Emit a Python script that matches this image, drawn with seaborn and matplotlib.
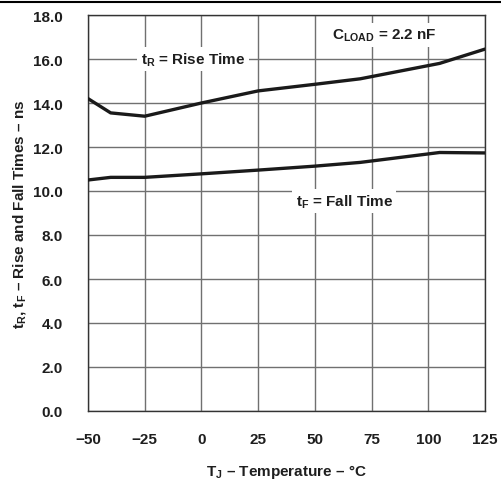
import matplotlib
matplotlib.use("Agg")
import matplotlib.pyplot as plt
import seaborn as sns
import pandas as pd
from matplotlib.lines import Line2D

# Junction temperature (°C)
temp_c = [-50, -40, -25, 0, 25, 50, 70, 105, 125]
# Rise and fall times (ns) at C_LOAD = 2.2 nF
rise_ns = [14.2, 13.55, 13.4, 14.0, 14.55, 14.85, 15.1, 15.8, 16.45]
fall_ns = [10.5, 10.62, 10.62, 10.78, 10.95, 11.13, 11.3, 11.75, 11.73]

x_ticks = [-50, -25, 0, 25, 50, 75, 100, 125]
x_tick_labels = ["\u221250", "\u221225", "0", "25", "50", "75", "100", "125"]
y_ticks = [0, 2, 4, 6, 8, 10, 12, 14, 16, 18]
y_tick_labels = [f"{v:.1f}" for v in y_ticks]

sns.set_style("white")
plt.rcParams["font.family"] = ["Liberation Sans", "DejaVu Sans"]
plt.rcParams["font.weight"] = "bold"
plt.rcParams["mathtext.fontset"] = "custom"
plt.rcParams["mathtext.rm"] = "Liberation Sans:bold"
plt.rcParams["mathtext.it"] = "Liberation Sans:bold"
plt.rcParams["mathtext.bf"] = "Liberation Sans:bold"

FS = 11
INK = "#1e1e1e"

df = pd.DataFrame({
    "temp": temp_c * 2,
    "time": rise_ns + fall_ns,
    "series": ["rise"] * len(temp_c) + ["fall"] * len(temp_c),
})

fig = plt.figure(figsize=(5.01, 4.85), dpi=100)
ax = fig.add_axes([88 / 501, 1 - 412 / 485, (485 - 88) / 501, (412 - 16) / 485])

sns.lineplot(data=df, x="temp", y="time", hue="series",
             palette={"rise": "#1a1a1a", "fall": "#1a1a1a"},
             linewidth=2.4, legend=False, ax=ax, zorder=3)

ax.set_xlim(-50, 125)
ax.set_ylim(0, 18)
ax.set_xticks(x_ticks)
ax.set_xticklabels(x_tick_labels)
ax.set_yticks(y_ticks)
ax.set_yticklabels(y_tick_labels)
ax.tick_params(axis="both", length=0, labelsize=FS, colors=INK)
ax.tick_params(axis="x", pad=15)
ax.tick_params(axis="y", pad=18)
for lbl in ax.get_xticklabels() + ax.get_yticklabels():
    lbl.set_fontweight("bold")

ax.grid(True, color="#707070", linewidth=1.0)
ax.set_axisbelow(True)
for sp in ax.spines.values():
    sp.set_color("#333333")
    sp.set_linewidth(1.0)

ax.set_xlabel("T$_\\mathrm{J}$ \u2013 Temperature \u2013 \u00b0C", fontsize=FS,
              fontweight="bold", labelpad=12, color=INK)
ax.set_ylabel("t$_\\mathrm{R}$, t$_\\mathrm{F}$ \u2013 Rise and Fall Times \u2013 ns",
              fontsize=FS, fontweight="bold", labelpad=4, color=INK)

box = dict(facecolor="white", edgecolor="none", pad=2.5)
ax.text(-3.7, 16.0, "t$_\\mathrm{R}$ = Rise Time", ha="center", va="center",
        fontsize=FS, fontweight="bold", bbox=box, zorder=4, color=INK)
ax.text(63, 9.55, "t$_\\mathrm{F}$ = Fall Time", ha="center", va="center",
        fontsize=FS, fontweight="bold", bbox=box, zorder=4, color=INK)
ax.text(80.6, 17.1, "C$_\\mathrm{LOAD}$ = 2.2 nF", ha="center", va="center",
        fontsize=FS, fontweight="bold", bbox=box, zorder=4, color=INK)

fig.add_artist(Line2D([0, 1], [1 - 3 / 485, 1 - 3 / 485], color="black",
                      linewidth=1.5, transform=fig.transFigure))

fig.savefig("out.png", dpi=100)
